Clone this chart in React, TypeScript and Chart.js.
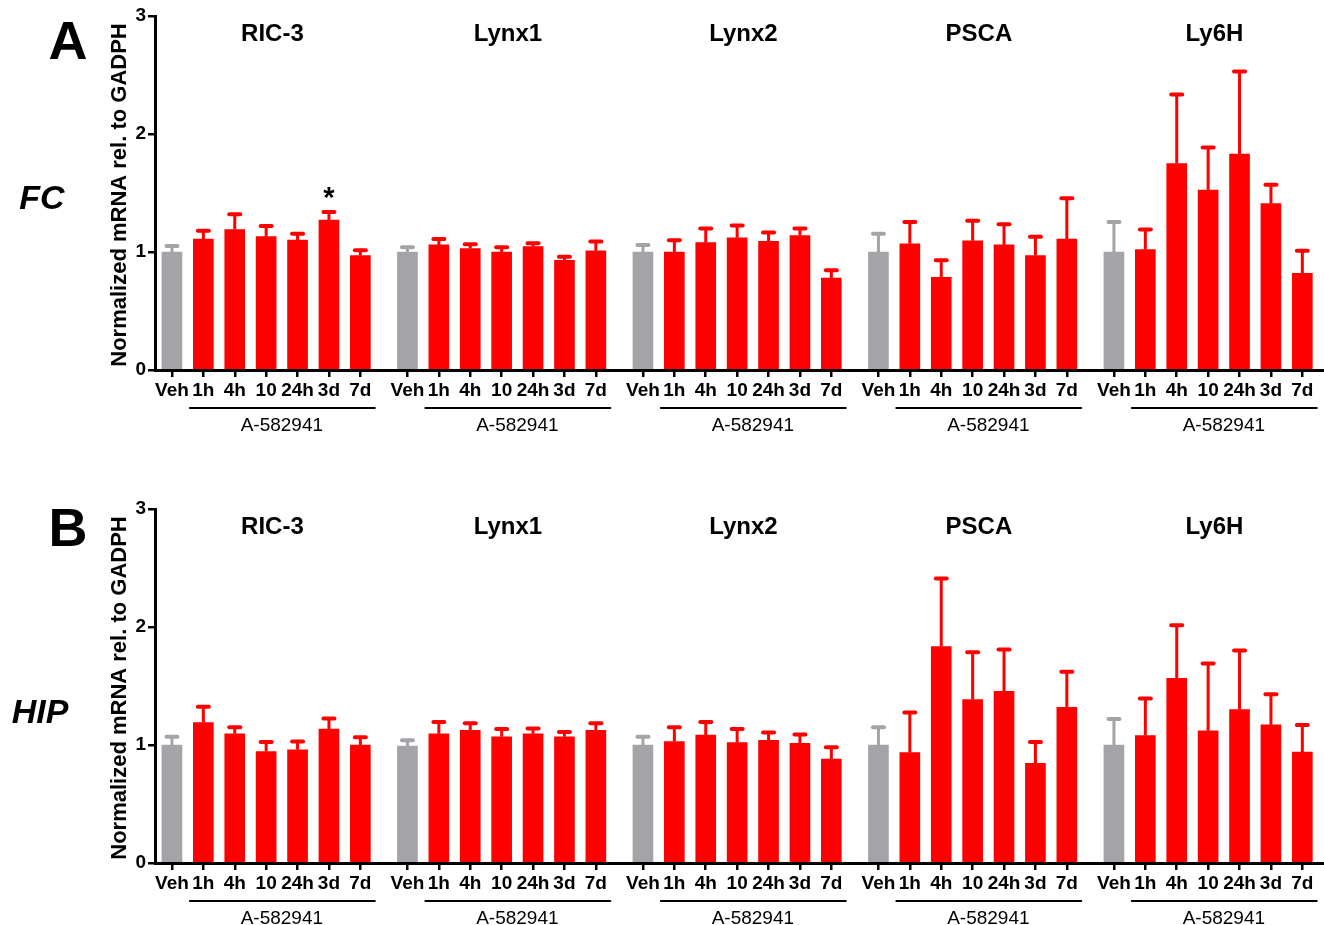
import React, { useEffect, useRef } from "react";
import { Chart, registerables } from "chart.js";

Chart.register(...registerables);

const FONT = "'Liberation Sans', Arial, Helvetica, sans-serif";

const GENES = ["RIC-3", "Lynx1", "Lynx2", "PSCA", "Ly6H"];
const TIME_LABELS = ["Veh", "1h", "4h", "10", "24h", "3d", "7d"];
const DRUG = "A-582941";
const Y_TITLE = "Normalized mRNA rel. to GADPH";

// Panel A (FC) – means and upper SEM per gene, per time point
const FC_MEANS = [
  [1.0, 1.11, 1.19, 1.13, 1.1, 1.27, 0.97],
  [1.0, 1.06, 1.03, 1.0, 1.045, 0.93, 1.01],
  [1.0, 1.0, 1.08, 1.12, 1.09, 1.14, 0.78],
  [1.0, 1.07, 0.785, 1.095, 1.06, 0.97, 1.11],
  [1.0, 1.02, 1.75, 1.525, 1.83, 1.41, 0.82],
];
const FC_ERRORS = [
  [0.05, 0.07, 0.13, 0.09, 0.055, 0.07, 0.045],
  [0.04, 0.05, 0.035, 0.04, 0.03, 0.03, 0.08],
  [0.06, 0.1, 0.12, 0.105, 0.075, 0.06, 0.065],
  [0.155, 0.185, 0.145, 0.17, 0.175, 0.16, 0.345],
  [0.255, 0.17, 0.585, 0.36, 0.7, 0.16, 0.19],
];
const FC_STARS = [[0, 5]];

// Panel B (HIP)
const HIP_MEANS = [
  [1.0, 1.19, 1.095, 0.945, 0.96, 1.135, 1.0],
  [0.99, 1.095, 1.125, 1.07, 1.095, 1.07, 1.125],
  [1.0, 1.03, 1.085, 1.02, 1.04, 1.015, 0.88],
  [1.0, 0.935, 1.835, 1.385, 1.455, 0.845, 1.32],
  [1.0, 1.08, 1.565, 1.12, 1.3, 1.17, 0.94],
];
const HIP_ERRORS = [
  [0.07, 0.135, 0.055, 0.08, 0.07, 0.09, 0.065],
  [0.05, 0.1, 0.06, 0.065, 0.045, 0.04, 0.06],
  [0.07, 0.12, 0.11, 0.115, 0.065, 0.075, 0.1],
  [0.15, 0.34, 0.575, 0.4, 0.355, 0.18, 0.3],
  [0.22, 0.315, 0.45, 0.57, 0.5, 0.26, 0.23],
];
const HIP_STARS: number[][] = [];

const RED = "#FF0000";
const GRAY = "#A3A3A8";
const STRIDE = 7.5;
const X_MIN = -0.54;
const X_MAX = 36.69;

type Panel = {
  letter: string;
  region: string;
  means: number[][];
  errors: number[][];
  stars: number[][];
  top: number;
  height: number;
  plotTop: number;
  plotBottom: number;
  letterPos: [number, number];
  regionPos: [number, number];
};

const PANELS: Panel[] = [
  {
    letter: "A",
    region: "FC",
    means: FC_MEANS,
    errors: FC_ERRORS,
    stars: FC_STARS,
    top: 0,
    height: 470,
    plotTop: 16,
    plotBottom: 370,
    letterPos: [68, 40],
    regionPos: [42, 197],
  },
  {
    letter: "B",
    region: "HIP",
    means: HIP_MEANS,
    errors: HIP_ERRORS,
    stars: HIP_STARS,
    top: 470,
    height: 455,
    plotTop: 39,
    plotBottom: 393,
    letterPos: [68, 527],
    regionPos: [40, 711],
  },
];

const xPos = (g: number, i: number) => g * STRIDE + i;

function capText(ctx: CanvasRenderingContext2D, text: string, x: number, cy: number, size: number) {
  ctx.textAlign = "center";
  ctx.textBaseline = "alphabetic";
  ctx.fillText(text, x, cy + size * 0.358);
}

function makePlugin(p: Panel) {
  return {
    id: "annot",
    afterDatasetsDraw(chart: any) {
      const ctx: CanvasRenderingContext2D = chart.ctx;
      const xs = chart.scales.x;
      const ys = chart.scales.y;
      const area = chart.chartArea;
      ctx.save();
      // error bars
      p.means.forEach((row, g) =>
        row.forEach((m, i) => {
          const px = xs.getPixelForValue(xPos(g, i));
          const base = ys.getPixelForValue(m);
          const top = ys.getPixelForValue(m + p.errors[g][i]);
          ctx.strokeStyle = i === 0 ? GRAY : RED;
          ctx.lineWidth = 3;
          ctx.lineCap = "butt";
          ctx.beginPath();
          ctx.moveTo(px, base);
          ctx.lineTo(px, top);
          ctx.stroke();
          ctx.lineWidth = 4;
          ctx.lineCap = "round";
          ctx.beginPath();
          ctx.moveTo(px - 5.5, top);
          ctx.lineTo(px + 5.5, top);
          ctx.stroke();
        })
      );
      ctx.fillStyle = "#000";
      // significance stars
      p.stars.forEach(([g, i]) => {
        const px = xs.getPixelForValue(xPos(g, i));
        const top = ys.getPixelForValue(p.means[g][i] + p.errors[g][i]);
        ctx.font = `bold 29px ${FONT}`;
        ctx.textAlign = "center";
        ctx.textBaseline = "alphabetic";
        ctx.fillText("*", px, top - 5);
      });
      // group titles
      GENES.forEach((name, g) => {
        ctx.font = `bold 24px ${FONT}`;
        capText(ctx, name, xs.getPixelForValue(xPos(g, 3.2)), area.top + 16, 24);
        // drug underline
        ctx.strokeStyle = "#000";
        ctx.lineWidth = 2;
        const y1 = area.bottom + 38;
        ctx.beginPath();
        ctx.moveTo(xs.getPixelForValue(xPos(g, 0.57)), y1);
        ctx.lineTo(xs.getPixelForValue(xPos(g, 6.46)), y1);
        ctx.stroke();
        ctx.font = `19px ${FONT}`;
        capText(ctx, DRUG, xs.getPixelForValue(xPos(g, 3.5)), area.bottom + 54, 19);
      });
      // y title
      ctx.save();
      ctx.translate(118, (area.top + area.bottom) / 2 + 2);
      ctx.rotate(-Math.PI / 2);
      ctx.font = `bold 22px ${FONT}`;
      capText(ctx, Y_TITLE, 0, 0, 22);
      ctx.restore();
      // panel letter and region
      ctx.font = `bold 54px ${FONT}`;
      capText(ctx, p.letter, p.letterPos[0], p.letterPos[1] - p.top, 54);
      ctx.font = `italic bold 34px ${FONT}`;
      capText(ctx, p.region, p.regionPos[0], p.regionPos[1] - p.top, 34);
      ctx.restore();
    },
  };
}

function PanelChart({ p }: { p: Panel }) {
  const ref = useRef<HTMLCanvasElement | null>(null);
  useEffect(() => {
    if (!ref.current) return;
    const points: { x: number; y: number }[] = [];
    const colors: string[] = [];
    const tickValues: number[] = [];
    p.means.forEach((row, g) =>
      row.forEach((m, i) => {
        points.push({ x: xPos(g, i), y: m });
        colors.push(i === 0 ? GRAY : RED);
        tickValues.push(xPos(g, i));
      })
    );
    const chart = new Chart(ref.current, {
      type: "bar",
      data: {
        datasets: [
          {
            data: points as any,
            backgroundColor: colors,
            borderWidth: 0,
            barThickness: 20,
          },
        ],
      },
      options: {
        animation: false,
        responsive: false,
        maintainAspectRatio: false,
        layout: { padding: { top: p.plotTop, left: 0, right: 0, bottom: 0 } },
        plugins: { legend: { display: false }, tooltip: { enabled: false } },
        scales: {
          x: {
            type: "linear",
            min: X_MIN,
            max: X_MAX,
            offset: false,
            bounds: "data",
            afterBuildTicks: (axis: any) => {
              axis.ticks = tickValues.map((v) => ({ value: v }));
            },
            afterFit: (axis: any) => {
              axis.height = p.height - p.plotBottom;
            },
            grid: {
              display: true,
              drawOnChartArea: false,
              drawTicks: true,
              tickLength: 7,
              color: "#000",
              lineWidth: 2.5,
              offset: false,
            },
            border: { display: true, color: "#000", width: 3 },
            ticks: {
              autoSkip: false,
              maxRotation: 0,
              minRotation: 0,
              padding: 2,
              color: "#000",
              font: { family: FONT, size: 19, weight: "bold" },
              callback: (_v: any, idx: number) => TIME_LABELS[idx % TIME_LABELS.length],
            },
          },
          y: {
            type: "linear",
            min: 0,
            max: 3,
            afterFit: (axis: any) => {
              axis.width = 155;
            },
            grid: {
              display: true,
              drawOnChartArea: false,
              drawTicks: true,
              tickLength: 7,
              color: "#000",
              lineWidth: 2.5,
            },
            border: { display: true, color: "#000", width: 3 },
            ticks: {
              stepSize: 1,
              padding: 2,
              color: "#000",
              font: { family: FONT, size: 19, weight: "bold" },
            },
          },
        },
      } as any,
      plugins: [makePlugin(p)],
    });
    return () => chart.destroy();
  }, [p]);
  return (
    <canvas
      ref={ref}
      width={1324}
      height={p.height}
      style={{ position: "absolute", left: 0, top: p.top, width: 1324, height: p.height, display: "block" }}
    />
  );
}

export default function App() {
  return (
    <div
      style={{
        position: "absolute",
        left: 0,
        top: 0,
        width: 1324,
        height: 925,
        background: "#fff",
        overflow: "hidden",
      }}
    >
      {PANELS.map((p) => (
        <PanelChart key={p.letter} p={p} />
      ))}
    </div>
  );
}
